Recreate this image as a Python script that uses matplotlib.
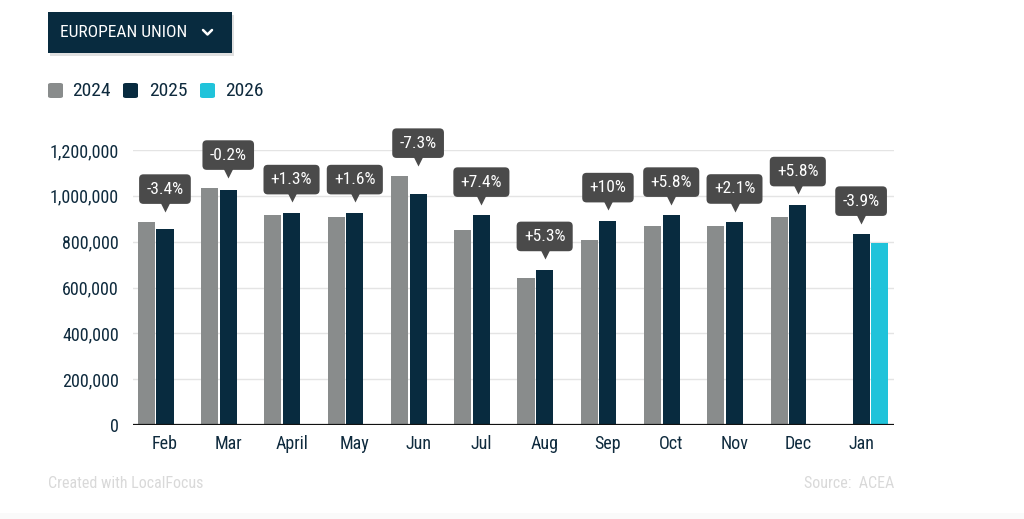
import numpy as np
import matplotlib
matplotlib.use('Agg')
import matplotlib.pyplot as plt
from matplotlib import font_manager
from matplotlib.patches import FancyBboxPatch, Rectangle
from matplotlib.lines import Line2D
from matplotlib.transforms import ScaledTranslation
from matplotlib.ticker import FuncFormatter

# pick a condensed font if there is one
names = {f.name for f in font_manager.fontManager.ttflist}
FONT = 'Roboto'
for cand in ['Roboto Condensed', 'Liberation Sans Narrow']:
    if cand in names:
        FONT = cand
        break
plt.rcParams['font.family'] = [FONT, 'DejaVu Sans']

## data
months = ['Feb', 'Mar', 'April', 'May', 'Jun', 'Jul', 'Aug', 'Sep', 'Oct', 'Nov', 'Dec', 'Jan']
sales_2024 = [884500, 1033000, 915000, 909000, 1085000, 850000, 643000, 809000, 867000, 867000, 908000, np.nan]
sales_2025 = [855000, 1027000, 926000, 926000, 1009000, 915000, 678000, 891000, 915000, 885000, 961000, 832000]
sales_2026 = [np.nan] * 11 + [796000]
changes = ['-3.4%', '-0.2%', '+1.3%', '+1.6%', '-7.3%', '+7.4%', '+5.3%', '+10%', '+5.8%', '+2.1%', '+5.8%', '-3.9%']
years = ['2024', '2025', '2026']

C24 = '#898c8c'
C25 = '#082b3f'
C26 = '#20c3da'
TXT = '#0e2a3d'
BOX = '#4a4a4a'

W, H = 1024, 519
fig = plt.figure(figsize=(W / 100, H / 100), dpi=100)

def fx(px):
    return px / W

def fy(py):
    return 1 - py / H

ax = fig.add_axes([fx(133), fy(425), fx(894 - 133), (425 - 150) / H])

x = np.arange(len(months))
slot = 0.295
bw = 0.27
ax.bar(x - slot, sales_2024, width=bw, color=C24, zorder=3)
ax.bar(x, sales_2025, width=bw, color=C25, zorder=3)
ax.bar(x + slot, sales_2026, width=bw, color=C26, zorder=3)

ax.set_xlim(-0.505, 11.52)
ax.set_ylim(0, 1200000)
ax.set_yticks(np.arange(0, 1200001, 200000))
ax.yaxis.set_major_formatter(FuncFormatter(lambda v, p: f'{int(v):,}'))
ax.set_xticks(x)
ax.set_xticklabels(months)
ax.tick_params(axis='both', length=0, labelsize=13, labelcolor=TXT)
ax.tick_params(axis='y', pad=10)
ax.tick_params(axis='x', pad=7.5)
ax.grid(axis='y', color='#e4e4e4', lw=1, zorder=0)
for s in ax.spines.values():
    s.set_visible(False)
ax.axhline(0, color='#111111', lw=1.6, zorder=4)

# change labels above each month
for i in range(len(months)):
    vals = [v for v in (sales_2024[i], sales_2025[i], sales_2026[i]) if not np.isnan(v)]
    top = max(vals)
    ax.annotate(changes[i], xy=(i, top), xytext=(0, 18.5), textcoords='offset points',
                ha='center', va='bottom', fontsize=12.5, color='white', zorder=6,
                annotation_clip=False,
                bbox=dict(boxstyle='round,pad=0.42,rounding_size=0.25', fc=BOX, ec='none'))
    tr = ax.transData + ScaledTranslation(0, 12 / 72, fig.dpi_scale_trans)
    ax.plot(i, top, marker='v', ms=8, color=BOX, mec='none', transform=tr, zorder=5, clip_on=False)

# dropdown box
fig.patches.append(Rectangle((fx(50), fy(56)), fx(184), 41 / H, transform=fig.transFigure,
                             fc='#000000', alpha=0.12, ec='none'))
fig.patches.append(Rectangle((fx(48), fy(53)), fx(184), 41 / H, transform=fig.transFigure,
                             fc=C25, ec='none'))
fig.text(fx(60), fy(32.5), 'EUROPEAN UNION', color='white', fontsize=12.5, va='center', ha='left')
fig.lines.append(Line2D([fx(203), fx(207.5), fx(212)], [fy(30), fy(34.5), fy(30)],
                        transform=fig.transFigure, color='white', lw=1.8,
                        solid_capstyle='round', solid_joinstyle='round'))

# legend
for (sx, tx), lab, col in zip([(48, 72), (123, 149), (200, 225)], years, [C24, C25, C26]):
    fig.patches.append(FancyBboxPatch((fx(sx), fy(98)), fx(15), 15 / H, transform=fig.transFigure,
                                      boxstyle='round,pad=0,rounding_size=0.003', fc=col, ec='none'))
    fig.text(fx(tx), fy(90.5), lab, color=TXT, fontsize=14, va='center', ha='left')

# footer
fig.text(fx(48), fy(483), 'Created with LocalFocus', color='#d9d9d9', fontsize=11.5, va='center', ha='left')
fig.text(fx(894), fy(483), 'Source:  ACEA', color='#d9d9d9', fontsize=11.5, va='center', ha='right')
fig.patches.append(Rectangle((0, 0), 1, 6 / H, transform=fig.transFigure, fc='#fafafa', ec='none'))

fig.savefig('out.png', dpi=100)
